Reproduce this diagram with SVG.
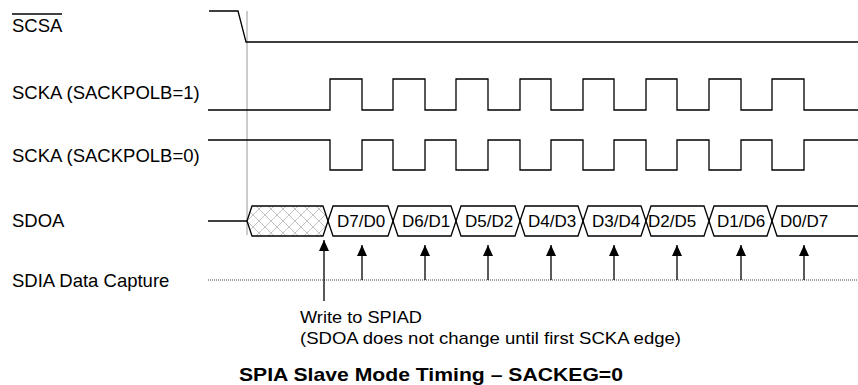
<svg xmlns="http://www.w3.org/2000/svg" width="858" height="385" viewBox="0 0 858 385">
<style>
.sig{fill:none;stroke:#000;stroke-width:1.3;stroke-linejoin:miter}
.lbl{font-family:"Liberation Sans",Arial,sans-serif;font-size:18.5px;fill:#000}
.cell{font-family:"Liberation Sans",Arial,sans-serif;font-size:17px;fill:#000}
.note{font-family:"Liberation Sans",Arial,sans-serif;font-size:17px;fill:#000}
.title{font-family:"Liberation Sans",Arial,sans-serif;font-size:19px;font-weight:bold;fill:#000}
.arr{fill:none;stroke:#000;stroke-width:1.3}
</style>
<defs>
<pattern id="hatch" patternUnits="userSpaceOnUse" x="247" y="209" width="12" height="12">
<path d="M0,0 L12,12 M12,0 L0,12" stroke="#c4c4c4" stroke-width="1" fill="none"/>
</pattern>
<marker id="ah" viewBox="0 0 11 10" refX="11" refY="5" markerWidth="11" markerHeight="10" markerUnits="userSpaceOnUse" orient="auto">
<path d="M0,0 L11,5 L0,10 z" fill="#000"/>
</marker>
</defs>

<g id="labels">
<text class="lbl" x="12" y="32">SCSA</text>
<line x1="12" y1="14" x2="62" y2="14" stroke="#000" stroke-width="1.3"/>
<text class="lbl" x="12" y="99">SCKA (SACKPOLB=1)</text>
<text class="lbl" x="12" y="162">SCKA (SACKPOLB=0)</text>
<text class="lbl" x="12" y="227">SDOA</text>
<text class="lbl" x="12" y="287">SDIA Data Capture</text>
</g>

<g id="ref-line">
<line x1="247" y1="11" x2="247" y2="235" stroke="#999" stroke-width="1"/>
</g>

<g id="scsa">
<polyline class="sig" points="209,11 238,11 246,42 858,42"/>
</g>

<g id="scka1">
<polyline class="sig" points="208,110 330,110 330,79 362,79 362,110 393,110 393,79 425,79 425,110 456,110 456,79 488,79 488,110 520,110 520,79 551,79 551,110 583,110 583,79 614,79 614,110 646,110 646,79 677,79 677,110 709,110 709,79 741,79 741,110 772,110 772,79 804,79 804,110 858,110"/>
</g>

<g id="scka0">
<polyline class="sig" points="208,140 330,140 330,170 362,170 362,140 393,140 393,170 425,170 425,140 456,140 456,170 488,170 488,140 520,140 520,170 551,170 551,140 583,140 583,170 614,170 614,140 646,140 646,170 677,170 677,140 709,140 709,170 741,170 741,140 772,140 772,170 804,170 804,140 858,140"/>
</g>

<g id="sdoa">
<line class="sig" x1="208" y1="221" x2="247" y2="221"/>
<polygon points="247,221 252,206 323,206 328,221 323,236 252,236" fill="url(#hatch)" stroke="#000" stroke-width="1.3"/>
<polygon class="sig" points="328,221 333,206 388,206 393,221 388,236 333,236"/>
<polygon class="sig" points="393,221 398,206 451,206 456,221 451,236 398,236"/>
<polygon class="sig" points="456,221 461,206 515,206 520,221 515,236 461,236"/>
<polygon class="sig" points="520,221 525,206 578,206 583,221 578,236 525,236"/>
<polygon class="sig" points="583,221 588,206 641,206 646,221 641,236 588,236"/>
<polygon class="sig" points="646,221 651,206 704,206 709,221 704,236 651,236"/>
<polygon class="sig" points="709,221 714,206 767,206 772,221 767,236 714,236"/>
<polyline class="sig" points="858,206 777,206 772,221 777,236 858,236"/>
<text class="cell" x="337" y="227">D7/D0</text>
<text class="cell" x="402" y="227">D6/D1</text>
<text class="cell" x="465" y="227">D5/D2</text>
<text class="cell" x="528" y="227">D4/D3</text>
<text class="cell" x="592" y="227">D3/D4</text>
<text class="cell" x="648" y="227">D2/D5</text>
<text class="cell" x="717" y="227">D1/D6</text>
<text class="cell" x="780" y="227">D0/D7</text>
</g>

<g id="sdia">
<line x1="208" y1="280" x2="858" y2="280" stroke="#444" stroke-width="1" stroke-dasharray="1,1"/>
</g>

<g id="connectors">
<line class="arr" x1="362" y1="280" x2="362" y2="245" marker-end="url(#ah)"/>
<line class="arr" x1="425" y1="280" x2="425" y2="245" marker-end="url(#ah)"/>
<line class="arr" x1="488" y1="280" x2="488" y2="245" marker-end="url(#ah)"/>
<line class="arr" x1="551" y1="280" x2="551" y2="245" marker-end="url(#ah)"/>
<line class="arr" x1="614" y1="280" x2="614" y2="245" marker-end="url(#ah)"/>
<line class="arr" x1="677" y1="280" x2="677" y2="245" marker-end="url(#ah)"/>
<line class="arr" x1="741" y1="280" x2="741" y2="245" marker-end="url(#ah)"/>
<line class="arr" x1="804" y1="280" x2="804" y2="245" marker-end="url(#ah)"/>
<line class="arr" x1="324" y1="301" x2="324" y2="240" marker-end="url(#ah)"/>
</g>

<g id="note">
<text class="note" x="300" y="323" textLength="122" lengthAdjust="spacingAndGlyphs">Write to SPIAD</text>
<text class="note" x="300" y="344" textLength="381" lengthAdjust="spacingAndGlyphs">(SDOA does not change until first SCKA edge)</text>
</g>

<g id="caption">
<text class="title" x="239" y="381" textLength="384" lengthAdjust="spacingAndGlyphs">SPIA Slave Mode Timing – SACKEG=0</text>
</g>
</svg>
